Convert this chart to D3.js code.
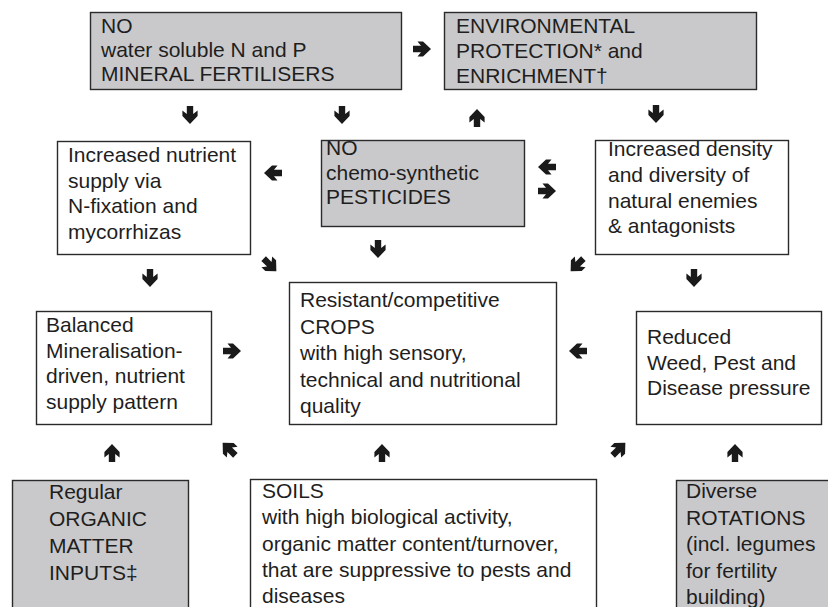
<!DOCTYPE html>
<html><head><meta charset="utf-8">
<script src="https://cdn.jsdelivr.net/npm/d3@7"></script>
<style>html,body{margin:0;padding:0;background:#fff}svg{display:block}</style>
</head><body>
<script>
// ---- content (text of each box) ----
const boxIds = ["noFert","envProt","nutrient","noPest","enemies","balanced","crops","reduced","organic","soils","rotations"];
const boxLines = {
  noFert:   ["NO","water soluble N and P","MINERAL FERTILISERS"],
  envProt:  ["ENVIRONMENTAL","PROTECTION* and","ENRICHMENT\u2020"],
  nutrient: ["Increased nutrient","supply via","N-fixation and","mycorrhizas"],
  noPest:   ["NO","chemo-synthetic","PESTICIDES"],
  enemies:  ["Increased density","and diversity of","natural enemies","& antagonists"],
  balanced: ["Balanced","Mineralisation-","driven, nutrient","supply pattern"],
  crops:    ["Resistant/competitive","CROPS","with high sensory,","technical and nutritional","quality"],
  reduced:  ["Reduced","Weed, Pest and","Disease pressure"],
  organic:  ["Regular","ORGANIC","MATTER","INPUTS\u2021"],
  soils:    ["SOILS","with high biological activity,","organic matter content/turnover,","that are suppressive to pests and","diseases"],
  rotations:["Diverse","ROTATIONS","(incl. legumes","for fertility","building)"]
};
const shadedBoxes = ["noFert","envProt","noPest","organic","rotations"];

// ---- layout (positions / sizes) ----
const layout = {
  noFert:   {x:90,  y:12,  w:311, h:77,  tx:101, ty:33,  lh:24},
  envProt:  {x:444, y:12,  w:312, h:77,  tx:456, ty:33,  lh:25},
  nutrient: {x:57,  y:141, w:193, h:113, tx:68,  ty:162, lh:25.5},
  noPest:   {x:321, y:140, w:203, h:86,  tx:326, ty:155, lh:24.5},
  enemies:  {x:595, y:140, w:193, h:114, tx:608, ty:156, lh:25.8},
  balanced: {x:36,  y:311, w:175, h:113, tx:46,  ty:332, lh:25.5},
  crops:    {x:289, y:282, w:267, h:142, tx:300, ty:307, lh:26.5},
  reduced:  {x:636, y:311, w:185, h:113, tx:647, ty:344, lh:25.5},
  organic:  {x:12,  y:480, w:176, h:140, tx:49,  ty:499, lh:27},
  soils:    {x:250, y:479, w:346, h:140, tx:262, ty:498, lh:26.3},
  rotations:{x:676, y:480, w:160, h:140, tx:686, ty:498, lh:26.5}
};
// arrows: [x, y, direction in degrees: 0 right, 90 down, 180 left, -90 up]
const arrows = [
  [422,49,0],[190,115,90],[342,115,90],[477,118,-90],[656,114,90],
  [273,173,180],[547,167,180],[547,191,0],
  [150,278,90],[270,265,45],[378,249,90],[577,265,135],[694,278,90],
  [232,351,0],[578,351,180],
  [112,453,-90],[229,449,-135],[382,453,-90],[619,449,-45],[735,453,-90]
];

const W = 828, H = 607;
const svg = d3.select("body").append("svg").attr("width",W).attr("height",H);
const font = "'Liberation Sans', Arial, Helvetica, sans-serif";

const g = svg.selectAll("g.box").data(boxIds).join("g").attr("class","box");
g.append("rect")
  .attr("x",d=>layout[d].x+0.5).attr("y",d=>layout[d].y+0.5)
  .attr("width",d=>layout[d].w).attr("height",d=>layout[d].h)
  .attr("fill",d=>shadedBoxes.includes(d)?"#c9c9cb":"#fff")
  .attr("stroke","#2a2a2a").attr("stroke-width",1.4);
g.each(function(d){
  const L = layout[d];
  d3.select(this).selectAll("text").data(boxLines[d]).join("text")
    .attr("x",L.tx).attr("y",(t,i)=>L.ty+i*L.lh)
    .attr("font-family",font).attr("font-size",21).attr("fill","#1e1e1e")
    .text(t=>t);
});

const arrowPath = "M-9,-3.2 L-1,-3.2 L-4.5,-7.6 L1,-7.6 L9,0 L1,7.6 L-4.5,7.6 L-1,3.2 L-9,3.2 Z";
svg.selectAll("path.arrow").data(arrows).join("path").attr("class","arrow")
  .attr("d",arrowPath)
  .attr("transform",d=>`translate(${d[0]},${d[1]}) rotate(${d[2]})`)
  .attr("fill","#1a1a1a");
</script>
</body></html>
